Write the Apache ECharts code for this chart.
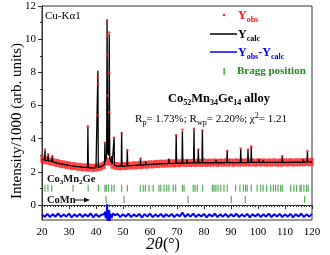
<!DOCTYPE html>
<html><head><meta charset="utf-8">
<script src="https://cdn.jsdelivr.net/npm/echarts@6/dist/echarts.min.js"></script>
<style>html,body{margin:0;padding:0;background:#fff}#c{width:330px;height:255px}</style>
</head><body><div id="c"></div>
<script>
// ---- data ----
const calcX = [20,20.95,21.1,21.25,22.15,22.3,22.45,23.65,23.8,23.95,25,26,27,28,29,30,31,32,33,34,35,36,
 36.85,37.0,37.15,38,39,40,40.55,40.7,40.85,42,42.7,43.15,43.3,43.45,43.95,44.1,44.3,44.75,44.9,45.1,45.6,45.8,46.0,
 46.55,46.7,46.85,48,49.35,49.5,49.65,50.5,51.45,51.6,51.75,53,54,55,56.35,56.5,56.65,58.25,58.4,58.55,60,62,64,66,
 66.85,67.0,67.15,68,69.55,69.7,69.85,71.0,71.85,72.0,72.15,73.55,73.7,73.85,75,76.15,76.3,76.45,77.75,77.9,78.05,
 79.25,79.4,79.55,81,83,84.35,84.5,84.65,86,88.45,88.6,88.75,90,92,93.45,93.6,93.75,95,96.15,96.3,96.45,97.35,97.5,97.65,
 99,100.25,100.4,100.55,101.75,101.9,102.05,103.15,103.3,103.45,105,107,108.85,109.0,109.15,111,113,115,116.65,116.8,116.95,
 118.15,118.3,118.45,119.2,120];
const calcY = [2.76,2.72,3.30,2.70,2.68,3.10,2.66,2.63,2.95,2.61,2.56,2.52,2.48,2.45,2.42,2.39,2.36,2.34,2.32,2.30,2.28,2.27,
 2.26,4.70,2.26,2.25,2.24,2.25,2.26,8.10,2.28,2.32,2.40,2.45,3.80,2.60,3.00,11.20,3.20,3.00,10.30,2.80,2.60,2.95,2.48,
 2.44,4.10,2.40,2.35,2.34,4.40,2.34,2.35,2.36,3.35,2.36,2.38,2.39,2.40,2.41,2.80,2.41,2.43,2.62,2.43,2.45,2.47,2.49,2.50,
 2.50,2.80,2.51,2.51,2.52,4.25,2.52,2.52,2.53,4.45,2.53,2.53,2.75,2.53,2.54,2.54,4.60,2.54,2.54,3.35,2.54,
 2.55,4.50,2.55,2.55,2.55,2.55,2.72,2.55,2.55,2.56,3.30,2.56,2.56,2.56,2.56,3.38,2.56,2.56,2.56,3.36,2.57,2.57,3.50,2.57,
 2.57,2.57,2.75,2.57,2.57,2.70,2.57,2.57,2.68,2.57,2.57,2.57,2.57,2.96,2.57,2.57,2.58,2.58,2.58,2.75,2.58,
 2.60,3.20,2.60,2.60,2.60];

const obsBgX = [20,21,22,23,24,25,26,27,28,29,30,31,32,33,34,35,36,37,38,39,40,41,42,43,44,45,46,47,48,49,50,
 51,52,53,54,55,56,57,58,59,60,61,62,63,64,65,66,67,68,69,70,71,72,73,74,75,76,77,78,79,80,81,82,83,84,85,86,87,88,89,90,
 91,92,93,94,95,96,97,98,99,100,101,102,103,104,105,106,107,108,109,110,111,112,113,114,115,116,117,118,119,120];
const obsBgY = [2.78,2.70,2.69,2.62,2.61,2.55,2.53,2.47,2.46,2.41,2.40,2.35,2.35,2.31,2.31,2.27,2.28,2.25,2.26,2.23,2.26,2.27,2.33,2.42,2.62,2.62,2.43,2.37,2.35,2.33,2.36,
 2.35,2.38,2.37,2.40,2.39,2.42,2.41,2.44,2.43,2.46,2.45,2.48,2.47,2.50,2.49,2.51,2.50,2.52,2.51,2.53,2.52,2.56,2.53,2.55,2.53,2.56,2.54,2.56,2.54,2.57,2.54,2.56,2.55,2.57,2.54,2.57,2.55,2.58,2.55,2.57,
 2.55,2.58,2.55,2.57,2.56,2.58,2.56,2.58,2.55,2.58,2.56,2.58,2.55,2.57,2.56,2.58,2.55,2.57,2.56,2.58,2.56,2.59,2.56,2.58,2.57,2.59,2.57,2.60,2.58,2.61];

const obsPeakX = [21.1,22.3,23.8,37.0,40.7,40.7,40.7,43.3,44.1,44.1,44.1,44.1,44.9,44.9,44.9,46.7,49.5,51.6,56.5,69.7,72.0,76.3,77.9,79.4,88.6,93.6,96.3,97.5,109.0,118.3];
const obsPeakY = [3.35,3.05,2.95,4.75,7.70,7.30,5.40,3.75,11.10,10.20,9.00,6.60,10.40,8.00,5.60,4.05,4.30,3.30,2.80,4.20,4.55,4.60,3.35,4.50,3.25,3.40,3.35,3.55,2.95,3.25];

const diffX = [20,21,22,23,24,25,26,27,28,29,30,31,32,33,34,35,36,37,38,39,40,41,42,43,43.3,43.6,44.0,44.1,44.25,44.5,44.75,44.9,45.05,45.3,45.8,46.2,
 47,48,49,50,51,52,53,54,55,56,57,58,59,60,61,62,63,64,65,66,67,68,69,70,71,72,73,74,75,76,77,78,79,80,81,82,83,84,85,86,87,88,89,90,
 91,92,93,94,95,96,97,98,99,100,101,102,103,104,105,106,107,108,109,110,111,112,113,114,115,116,117,118,119,120];
const diffY = [-0.56,-0.72,-0.53,-0.73,-0.55,-0.70,-0.50,-0.72,-0.56,-0.70,-0.52,-0.74,-0.56,-0.70,-0.53,-0.72,-0.55,-0.69,-0.50,-0.74,-0.54,-0.71,-0.58,-0.55,-0.40,-0.78,-0.50,0.05,-0.95,-0.45,-0.90,-0.30,-0.98,-0.55,-0.78,-0.50,
 -0.62,-0.53,-0.73,-0.55,-0.70,-0.51,-0.72,-0.56,-0.69,-0.53,-0.74,-0.55,-0.69,-0.52,-0.73,-0.56,-0.70,-0.53,-0.72,-0.55,-0.69,-0.53,-0.73,-0.56,-0.68,-0.45,-0.72,-0.54,-0.70,-0.52,-0.73,-0.56,-0.69,-0.53,-0.74,-0.55,-0.69,-0.52,-0.72,-0.56,-0.70,-0.53,-0.73,-0.55,
 -0.69,-0.52,-0.72,-0.56,-0.70,-0.53,-0.74,-0.55,-0.69,-0.53,-0.72,-0.56,-0.70,-0.52,-0.73,-0.55,-0.69,-0.53,-0.72,-0.56,-0.70,-0.53,-0.74,-0.55,-0.69,-0.52,-0.72,-0.56,-0.70,-0.53];

const braggCo3Mn2Ge = [21.1,22.2,23.6,31.5,37.1,40.9,43.3,43.8,44.6,45.8,46.7,49.5,51.6,56.4,57.5,58.3,59.6,61.2,63.3,64.0,65.2,66.2,67.0,68.6,69.5,72.0,72.6,
 76.0,76.7,77.5,79.5,83.1,83.7,84.4,85.2,86.2,87.4,88.6,91.7,93.3,94.6,95.4,96.0,97.5,99.7,101.0,101.9,103.2,104.7,105.7,106.5,107.4,108.4,109.0,
 112.1,113.3,114.3,115.6,116.0,117.0,118.0,118.6];
const braggCoMn = [43.7,50.4,74.1,90.1,95.3,117.3];

const xTickLabels = [20,30,40,50,60,70,80,90,100,110,120];
const yTickLabels = [0,2,4,6,8,10,12];

// ---- chart ----
const SERIF = '"Liberation Serif", "DejaVu Serif", serif';
const zip = (a, b) => a.map((v, i) => [v, b[i]]);
const ROW1 = 1.02, ROW2 = 0.33;

const chart = echarts.init(document.getElementById('c'), null, {renderer: 'canvas'});
chart.setOption({
  animation: false,
  backgroundColor: '#fff',
  grid: [
    {left: 42, right: 18, top: 6, bottom: 35, show: true, borderColor: '#333', borderWidth: 1, backgroundColor: 'transparent'},
    {left: 42, right: 18, top: 6, bottom: 50}
  ],
  xAxis: [
    {gridIndex: 0, type: 'value', min: 20, max: 120, interval: 10,
     axisLine: {show: true, lineStyle: {color: '#333', width: 1}},
     axisTick: {show: true, inside: false, length: 4, lineStyle: {color: '#333'}},
     minorTick: {show: true, splitNumber: 10, length: 2, lineStyle: {color: '#333'}},
     splitLine: {show: false},
     axisLabel: {show: true, margin: 7, color: '#000', fontFamily: SERIF, fontSize: 11,
       formatter: v => xTickLabels.includes(v) ? String(v) : ''}},
    {gridIndex: 1, type: 'value', min: 20, max: 120, show: false}
  ],
  yAxis: [
    {gridIndex: 0, type: 'value', min: -0.9, max: 12,
     axisLine: {show: true, lineStyle: {color: '#333', width: 1}},
     axisTick: {show: false}, axisLabel: {show: false}, splitLine: {show: false}},
    {gridIndex: 1, type: 'value', min: 0, max: 12, interval: 2,
     axisLine: {show: false},
     axisTick: {show: true, inside: false, length: 4, lineStyle: {color: '#333'}},
     minorTick: {show: true, splitNumber: 2, length: 2, lineStyle: {color: '#333'}},
     splitLine: {show: false},
     axisLabel: {show: true, margin: 6, color: '#000', fontFamily: SERIF, fontSize: 11,
       formatter: v => yTickLabels.includes(v) ? String(v) : ''}}
  ],
  series: [
    {name: 'Yobs band', type: 'scatter', xAxisIndex: 0, yAxisIndex: 0, silent: true,
     symbol: 'rect', symbolSize: [3.4, 8], itemStyle: {color: '#ff2020'},
     data: zip(obsBgX, obsBgY), z: 2},
    {name: 'Ycalc', type: 'line', xAxisIndex: 0, yAxisIndex: 0, silent: true,
     showSymbol: false, lineStyle: {color: '#000', width: 1.3}, data: zip(calcX, calcY), z: 3},
    {name: 'Yobs', type: 'scatter', xAxisIndex: 0, yAxisIndex: 0, silent: true,
     symbol: 'circle', symbolSize: 2.6, itemStyle: {color: '#ff2020'},
     data: zip(obsPeakX, obsPeakY), z: 4},
    {name: 'Yobs-Ycalc', type: 'line', xAxisIndex: 0, yAxisIndex: 0, silent: true,
     showSymbol: false, lineStyle: {color: '#0000ff', width: 2}, data: zip(diffX, diffY), z: 3},
    {name: 'Bragg Co3Mn2Ge', type: 'scatter', xAxisIndex: 0, yAxisIndex: 0, silent: true,
     symbol: 'rect', symbolSize: [1.2, 7], itemStyle: {color: '#2e9a2e'},
     data: braggCo3Mn2Ge.map(v => [v, ROW1]), z: 3},
    {name: 'Bragg CoMn', type: 'scatter', xAxisIndex: 0, yAxisIndex: 0, silent: true,
     symbol: 'rect', symbolSize: [1.2, 7], itemStyle: {color: '#2e9a2e'},
     data: braggCoMn.map(v => [v, ROW2]), z: 3}
  ],
  graphic: [
    {type: 'text', x: 17, y: 121, rotation: Math.PI / 2, z: 10,
     style: {text: 'Intensity/1000 (arb. units)', font: '15px ' + SERIF, fill: '#000', align: 'center', verticalAlign: 'middle'}},
    {type: 'text', x: 163, y: 245, z: 10,
     style: {text: '{i|2θ}{n|(°)}', align: 'center', verticalAlign: 'middle',
       rich: {i: {fontFamily: SERIF, fontSize: 17, fontStyle: 'italic', fill: '#000'},
              n: {fontFamily: SERIF, fontSize: 16, fill: '#000'}}}},
    {type: 'text', x: 45, y: 16, z: 10,
     style: {text: 'Cu-Kα1', font: '11px ' + SERIF, fill: '#000', verticalAlign: 'middle'}},
    {type: 'text', x: 219, y: 99, z: 10,
     style: {text: '{b|Co}{s|52}{b|Mn}{s|34}{b|Ge}{s|14}{b| alloy}', align: 'center', verticalAlign: 'middle',
       rich: {b: {fontFamily: SERIF, fontSize: 12.5, fontWeight: 'bold', fill: '#000', lineHeight: 16, verticalAlign: 'middle'},
              s: {fontFamily: SERIF, fontSize: 8, fontWeight: 'bold', fill: '#000', lineHeight: 9, verticalAlign: 'bottom'}}}},
    {type: 'text', x: 211, y: 119, z: 10,
     style: {text: '{n|R}{s|p}{n|= 1.73%; R}{s|wp}{n|= 2.20%; χ}{u|2}{n|= 1.21}', align: 'center', verticalAlign: 'middle',
       rich: {n: {fontFamily: SERIF, fontSize: 11, fill: '#000', lineHeight: 15, verticalAlign: 'middle'},
              s: {fontFamily: SERIF, fontSize: 8, fill: '#000', lineHeight: 8, verticalAlign: 'bottom'},
              u: {fontFamily: SERIF, fontSize: 8, fill: '#000', lineHeight: 8, verticalAlign: 'top'}}}},
    {type: 'text', x: 47, y: 179, z: 10,
     style: {text: '{b|Co}{s|3}{b|Mn}{s|2}{b|Ge}', verticalAlign: 'middle',
       rich: {b: {fontFamily: SERIF, fontSize: 10.5, fontWeight: 'bold', fill: '#111', lineHeight: 14, verticalAlign: 'middle'},
              s: {fontFamily: SERIF, fontSize: 7, fontWeight: 'bold', fill: '#111', lineHeight: 7, verticalAlign: 'bottom'}}}},
    {type: 'text', x: 47, y: 200, z: 10,
     style: {text: 'CoMn', font: 'bold 10.5px ' + SERIF, fill: '#111', verticalAlign: 'middle'}},
    {type: 'line', z: 10, shape: {x1: 74, y1: 200, x2: 85, y2: 200}, style: {stroke: '#111', lineWidth: 1}},
    {type: 'polygon', z: 10, shape: {points: [[84, 197.5], [90, 200], [84, 202.5]]}, style: {fill: '#111'}},
    {type: 'circle', z: 10, shape: {cx: 224, cy: 15, r: 1.3}, style: {fill: '#ff2020'}},
    {type: 'text', x: 238, y: 16, z: 10,
     style: {text: '{b|Y}{s|obs}', verticalAlign: 'middle',
       rich: {b: {fontFamily: SERIF, fontSize: 12, fontWeight: 'bold', fill: '#ff1010', lineHeight: 15, verticalAlign: 'middle'},
              s: {fontFamily: SERIF, fontSize: 8, fontWeight: 'bold', fill: '#ff1010', lineHeight: 8, verticalAlign: 'bottom'}}}},
    {type: 'line', z: 10, shape: {x1: 210, y1: 34, x2: 237, y2: 34}, style: {stroke: '#000', lineWidth: 1.5}},
    {type: 'text', x: 238, y: 35, z: 10,
     style: {text: '{b|Y}{s|calc}', verticalAlign: 'middle',
       rich: {b: {fontFamily: SERIF, fontSize: 12, fontWeight: 'bold', fill: '#000', lineHeight: 15, verticalAlign: 'middle'},
              s: {fontFamily: SERIF, fontSize: 8, fontWeight: 'bold', fill: '#000', lineHeight: 8, verticalAlign: 'bottom'}}}},
    {type: 'line', z: 10, shape: {x1: 210, y1: 52, x2: 237, y2: 52}, style: {stroke: '#0000ff', lineWidth: 1.5}},
    {type: 'text', x: 238, y: 53, z: 10,
     style: {text: '{b|Y}{s|obs}{b|-Y}{s|calc}', verticalAlign: 'middle',
       rich: {b: {fontFamily: SERIF, fontSize: 12, fontWeight: 'bold', fill: '#0000ee', lineHeight: 15, verticalAlign: 'middle'},
              s: {fontFamily: SERIF, fontSize: 8, fontWeight: 'bold', fill: '#0000ee', lineHeight: 8, verticalAlign: 'bottom'}}}},
    {type: 'rect', z: 10, shape: {x: 223.5, y: 68, width: 1.3, height: 7}, style: {fill: '#2e9a2e'}},
    {type: 'text', x: 237, y: 71.5, z: 10,
     style: {text: 'Bragg position', font: 'bold 11px ' + SERIF, fill: '#1f8a1f', verticalAlign: 'middle'}}
  ]
});
</script>
</body></html>
